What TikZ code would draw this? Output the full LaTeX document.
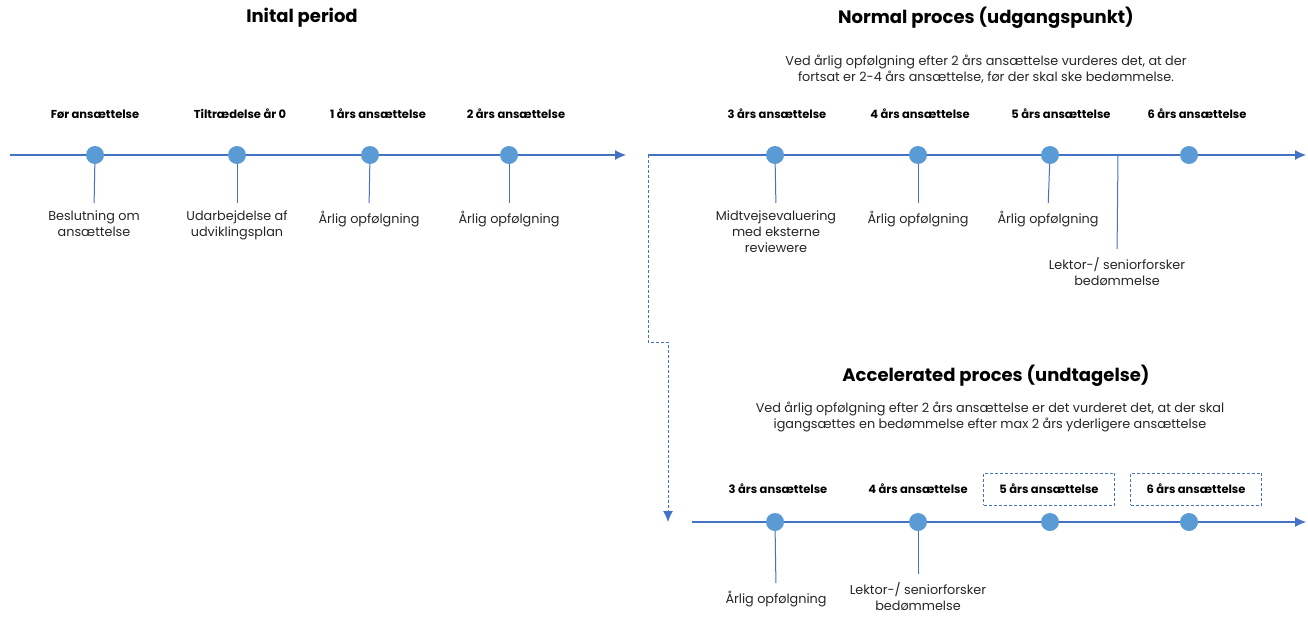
\documentclass[tikz,border=0pt]{standalone}
\usepackage{fontspec}
\setmainfont{Poppins}
\usetikzlibrary{arrows,arrows.meta,positioning}
\definecolor{lineblue}{HTML}{4472C4}
\definecolor{dotblue}{HTML}{5B9BD5}
\definecolor{txt}{HTML}{262626}

\begin{document}
\begin{tikzpicture}[x=1pt,y=-1pt,>={Latex[length=11pt,width=10pt]},node distance=41pt,
  dot/.style={circle,fill=dotblue,minimum size=18pt,inner sep=0pt},
  yearlbl/.style={font=\bfseries\fontsize{11.5}{13}\selectfont,text=black},
  note/.style={align=center,anchor=north,font=\fontsize{12.8}{16}\selectfont,text=txt,inner sep=2pt},
  ttl/.style={font=\bfseries\fontsize{18}{21}\selectfont,text=black},
  axis/.style={->,draw=lineblue,line width=1.1pt},
  tick/.style={draw=lineblue,line width=1pt,shorten >=6pt},
  link/.style={->,draw=lineblue,line width=1pt,densely dashed},
  framebox/.style={draw=lineblue,densely dashed,line width=0.9pt,minimum width=131pt,minimum height=32pt}]

\useasboundingbox (0,0) rectangle (1308,616);

% Inital period
\node[ttl] at (302,18) (tinit) {Inital period};
\coordinate (a0) at (10,155);
\coordinate (a1) at (626,155);
\draw[axis] (a0) -- (a1);
\node[dot] at (95,155) (i0) {};
\node[dot] at (237,155) (i1) {};
\node[dot] at (370,155) (i2) {};
\node[dot] at (509,155) (i3) {};
\node[yearlbl,above of=i0] {Før ansættelse};
\node[yearlbl,above of=i1,xshift=3pt] {Tiltrædelse år 0};
\node[yearlbl,above of=i2,xshift=8pt] {1 års ansættelse};
\node[yearlbl,above of=i3,xshift=7pt] {2 års ansættelse};
\node[note] at (94,209) (ni0) {Beslutning om\\ansættelse};
\node[note] at (237,209) (ni1) {Udarbejdelse af\\udviklingsplan};
\node[note] at (369,209) (ni2) {Årlig opfølgning};
\node[note] at (509,209) (ni3) {Årlig opfølgning};
\draw[tick] (i0) -- (ni0.north);
\draw[tick] (i1) -- (ni1.north);
\draw[tick] (i2) -- (ni2.north);
\draw[tick] (i3) -- (ni3.north);

% Normal proces
\node[ttl] at (986,18) (tnorm) {Normal proces (udgangspunkt)};
\node[note] at (986,53) (snorm) {Ved årlig opfølgning efter 2 års ansættelse vurderes det, at der\\fortsat er 2-4 års ansættelse, før der skal ske bedømmelse.};
\coordinate (b0) at (648,155);
\coordinate (b1) at (1306,155);
\draw[axis] (b0) -- (b1);
\node[dot] at (775,155) (n3) {};
\node[dot] at (918,155) (n4) {};
\node[dot] at (1050,155) (n5) {};
\node[dot] at (1189,155) (n6) {};
\node[yearlbl,above of=n3,xshift=2pt] {3 års ansættelse};
\node[yearlbl,above of=n4,xshift=2pt] {4 års ansættelse};
\node[yearlbl,above of=n5,xshift=11pt] {5 års ansættelse};
\node[yearlbl,above of=n6,xshift=8pt] {6 års ansættelse};
\node[note] at (776,209) (nn3) {Midtvejsevaluering\\med eksterne\\reviewere};
\node[note] at (918,209) (nn4) {Årlig opfølgning};
\node[note] at (1048,209) (nn5) {Årlig opfølgning};
\coordinate (lekt) at (1118,155);
\node[note] at (1117,255) (nlekt) {Lektor-/ seniorforsker\\bedømmelse};
\draw[tick] (n3) -- (nn3.north);
\draw[tick] (n4) -- (nn4.north);
\draw[tick] (n5) -- (nn5.north);
\draw[tick] (lekt) -- (nlekt.north);

% Accelerated proces
\coordinate (jog) at (668,342);
\coordinate (c2) at (668,522);
\draw[link] (b0) |- (jog) -- (c2);
\node[ttl] at (996,376) (tacc) {Accelerated proces (undtagelse)};
\node[note] at (990,400) (sacc) {Ved årlig opfølgning efter 2 års ansættelse er det vurderet det, at der skal\\igangsættes en bedømmelse efter max 2 års yderligere ansættelse};
\coordinate (c0) at (692,522);
\coordinate (c1) at (1306,522);
\draw[axis] (c0) -- (c1);
\node[dot] at (775,522) (x3) {};
\node[dot] at (918,522) (x4) {};
\node[dot] at (1050,522) (x5) {};
\node[dot] at (1189,522) (x6) {};
\node[yearlbl,above of=x3,node distance=33pt,xshift=3pt] {3 års ansættelse};
\node[yearlbl,above of=x4,node distance=33pt] {4 års ansættelse};
\node[yearlbl,framebox,above of=x5,node distance=33pt,xshift=-1pt] {5 års ansættelse};
\node[yearlbl,framebox,above of=x6,node distance=33pt,xshift=7pt] {6 års ansættelse};
\node[note] at (776,589) (nx3) {Årlig opfølgning};
\node[note] at (918,580) (nx4) {Lektor-/ seniorforsker\\bedømmelse};
\draw[tick] (x3) -- (nx3.north);
\draw[tick] (x4) -- (nx4.north);
\end{tikzpicture}
\end{document}
